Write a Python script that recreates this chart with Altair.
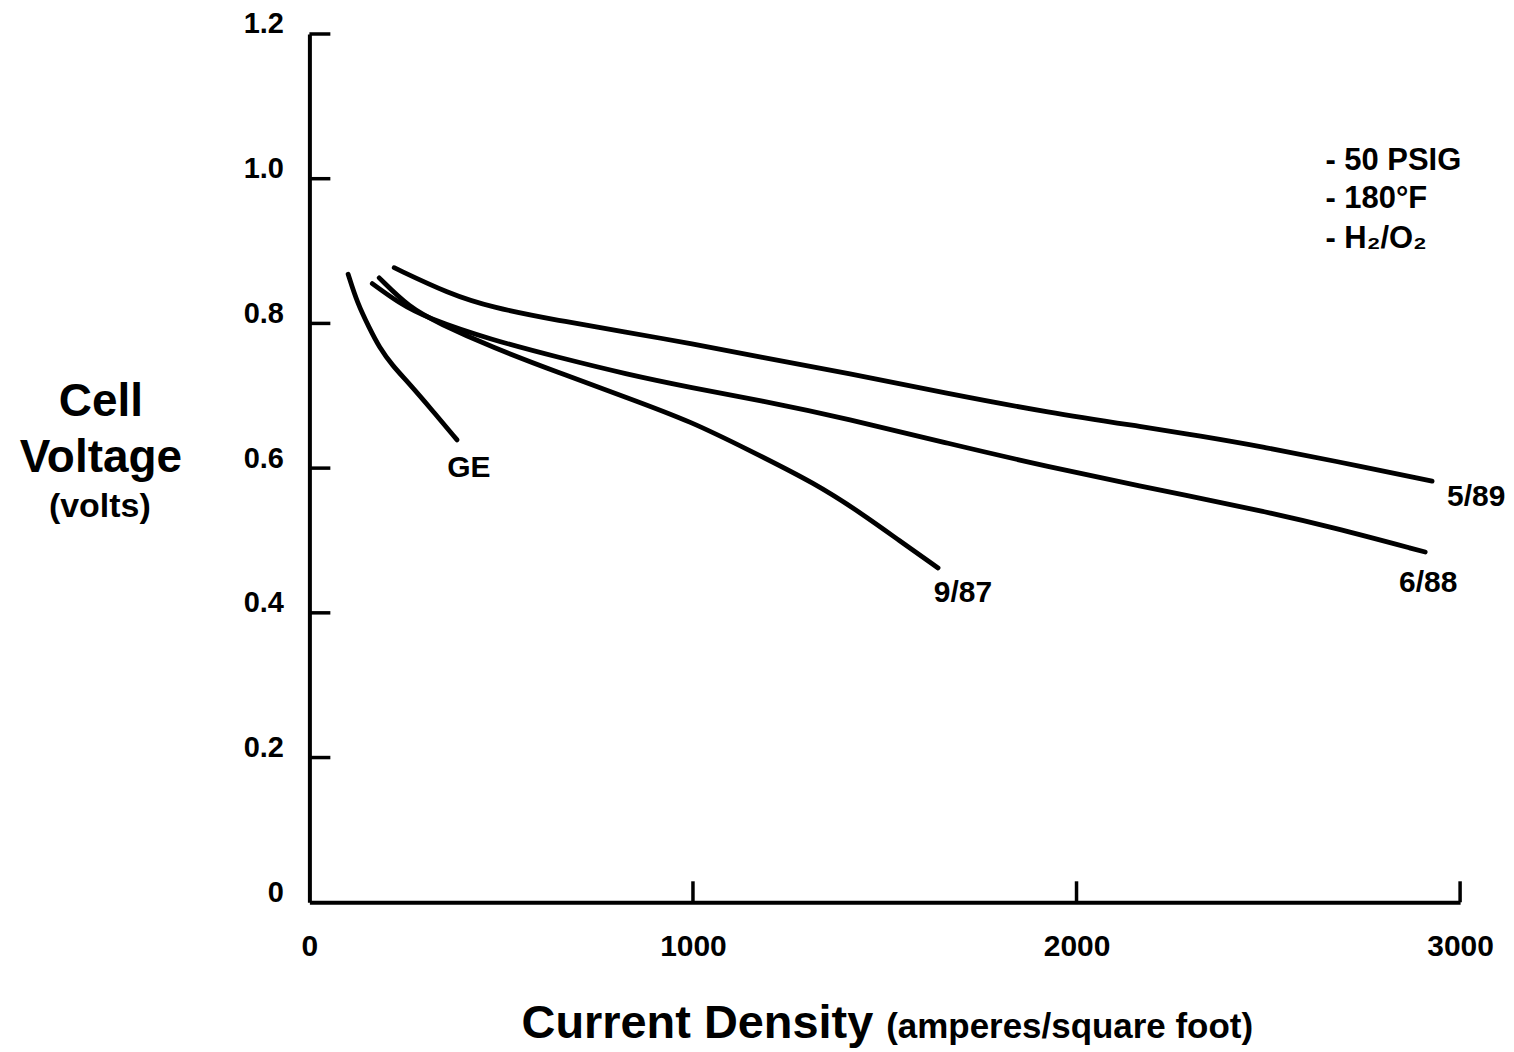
import altair as alt
import pandas as pd

# ---- data ----
x_589 = [221, 364, 476, 650, 825, 997, 1171, 1405, 1665, 1925, 2186, 2316, 2490, 2662, 2927]
y_589 = [0.877, 0.841, 0.822, 0.804, 0.788, 0.772, 0.754, 0.731, 0.703, 0.677, 0.656, 0.645, 0.629, 0.611, 0.582]

x_688 = [164, 234, 304, 476, 650, 825, 997, 1171, 1405, 1665, 1925, 2186, 2316, 2490, 2662, 2909]
y_688 = [0.855, 0.828, 0.808, 0.777, 0.753, 0.730, 0.711, 0.694, 0.668, 0.634, 0.602, 0.573, 0.559, 0.540, 0.519, 0.484]

x_987 = [182, 260, 338, 476, 650, 825, 997, 1145, 1319, 1449, 1535, 1639]
y_987 = [0.863, 0.822, 0.800, 0.767, 0.732, 0.698, 0.664, 0.625, 0.579, 0.534, 0.501, 0.462]

x_ge = [101, 125, 156, 182, 216, 260, 320, 385]
y_ge = [0.868, 0.828, 0.794, 0.767, 0.742, 0.717, 0.680, 0.639]

label_text = ["GE", "9/87", "6/88", "5/89"]
label_x = [416, 1704, 2917, 3042]
label_y = [0.600, 0.428, 0.441, 0.560]

note_text = ["- 50 PSIG", "- 180°F", "- H\u2082/O\u2082"]
note_x = [2649, 2649, 2649]
note_y = [1.025, 0.972, 0.917]

x_ticks = [0, 1000, 2000, 3000]
y_ticks = [0, 0.2, 0.4, 0.6, 0.8, 1.0, 1.2]

FONT = "Liberation Sans"

rows = []
for name, xs, ys in [("5/89", x_589, y_589), ("6/88", x_688, y_688),
                     ("9/87", x_987, y_987), ("GE", x_ge, y_ge)]:
    for a, b in zip(xs, ys):
        rows.append({"series": name, "x": a, "y": b})
df = pd.DataFrame(rows)
labels = pd.DataFrame({"text": label_text, "x": label_x, "y": label_y})
notes = pd.DataFrame({"text": note_text, "x": note_x, "y": note_y})
xt = pd.DataFrame({"x": [v for v in x_ticks if v > 0]})
yt = pd.DataFrame({"y": [v for v in y_ticks if v > 0]})

xscale = alt.Scale(domain=[0, 3000], nice=False)
yscale = alt.Scale(domain=[0, 1.2], nice=False)

x_enc = alt.X("x:Q", scale=xscale, axis=alt.Axis(
    values=x_ticks, format="d", title=None, grid=False, ticks=False,
    labelPadding=29, labelFontSize=30, labelFont=FONT, labelFontWeight="bold",
    labelColor="black", domainColor="black", domainWidth=4, labelFlush=False))
y_enc = alt.Y("y:Q", scale=yscale, axis=alt.Axis(
    values=y_ticks, labelExpr="datum.value == 0 ? '0' : format(datum.value, '.1f')",
    title=None, grid=False, ticks=False, labelPadding=26, labelOffset=-10,
    labelFontSize=29, labelFont=FONT, labelFontWeight="bold",
    labelColor="black", domainColor="black", domainWidth=4, labelFlush=False))

lines = alt.Chart(df).mark_line(strokeWidth=4.8, strokeCap="round", interpolate="basis",
                                color="black").encode(
    x=x_enc, y=y_enc, detail="series:N")

ytick_rules = alt.Chart(yt).mark_rule(color="black", strokeWidth=3.5).encode(
    y=alt.Y("y:Q", scale=yscale), x=alt.value(0), x2=alt.value(21))
xtick_rules = alt.Chart(xt).mark_rule(color="black", strokeWidth=3.5).encode(
    x=alt.X("x:Q", scale=xscale), y=alt.value(870), y2=alt.value(849))

lab = alt.Chart(labels).mark_text(font=FONT, fontWeight="bold", fontSize=30,
                                  baseline="middle", align="center", color="black").encode(
    x=alt.X("x:Q", scale=xscale), y=alt.Y("y:Q", scale=yscale), text="text:N")

note = alt.Chart(notes).mark_text(font=FONT, fontWeight="bold", fontSize=31,
                                  baseline="middle", align="left", color="black").encode(
    x=alt.X("x:Q", scale=xscale), y=alt.Y("y:Q", scale=yscale), text="text:N")

ytitle_df = pd.DataFrame({"t": ["Cell", "Voltage"], "py": [369, 425]})
ytitle = alt.Chart(ytitle_df).mark_text(font=FONT, fontWeight="bold", fontSize=46,
                                        baseline="middle", align="center", color="black").encode(
    text="t:N", x=alt.value(-209), y=alt.Y("py:Q", scale=None))
volts = alt.Chart(pd.DataFrame({"t": ["(volts)"]})).mark_text(
    font=FONT, fontWeight="bold", fontSize=34, baseline="middle", align="center",
    color="black").encode(text="t:N", x=alt.value(-210), y=alt.value(474))

xt1 = alt.Chart(pd.DataFrame({"t": ["Current Density"]})).mark_text(
    font=FONT, fontWeight="bold", fontSize=47, baseline="alphabetic", align="right",
    color="black").encode(text="t:N", x=alt.value(565), y=alt.value(1006))
xt2 = alt.Chart(pd.DataFrame({"t": ["(amperes/square foot)"]})).mark_text(
    font=FONT, fontWeight="bold", fontSize=35, baseline="alphabetic", align="left",
    color="black").encode(text="t:N", x=alt.value(578), y=alt.value(1006))

chart = alt.layer(ytick_rules, xtick_rules, lines, lab, note, ytitle, volts, xt1, xt2).properties(
    width=1153, height=870,
    autosize=alt.AutoSizeParams(type="none"),
    padding={"left": 302, "top": 25, "right": 46, "bottom": 149},
    background="white",
).configure_view(stroke=None)

chart.save("out.html", embed_options={"renderer": "svg", "actions": False})
